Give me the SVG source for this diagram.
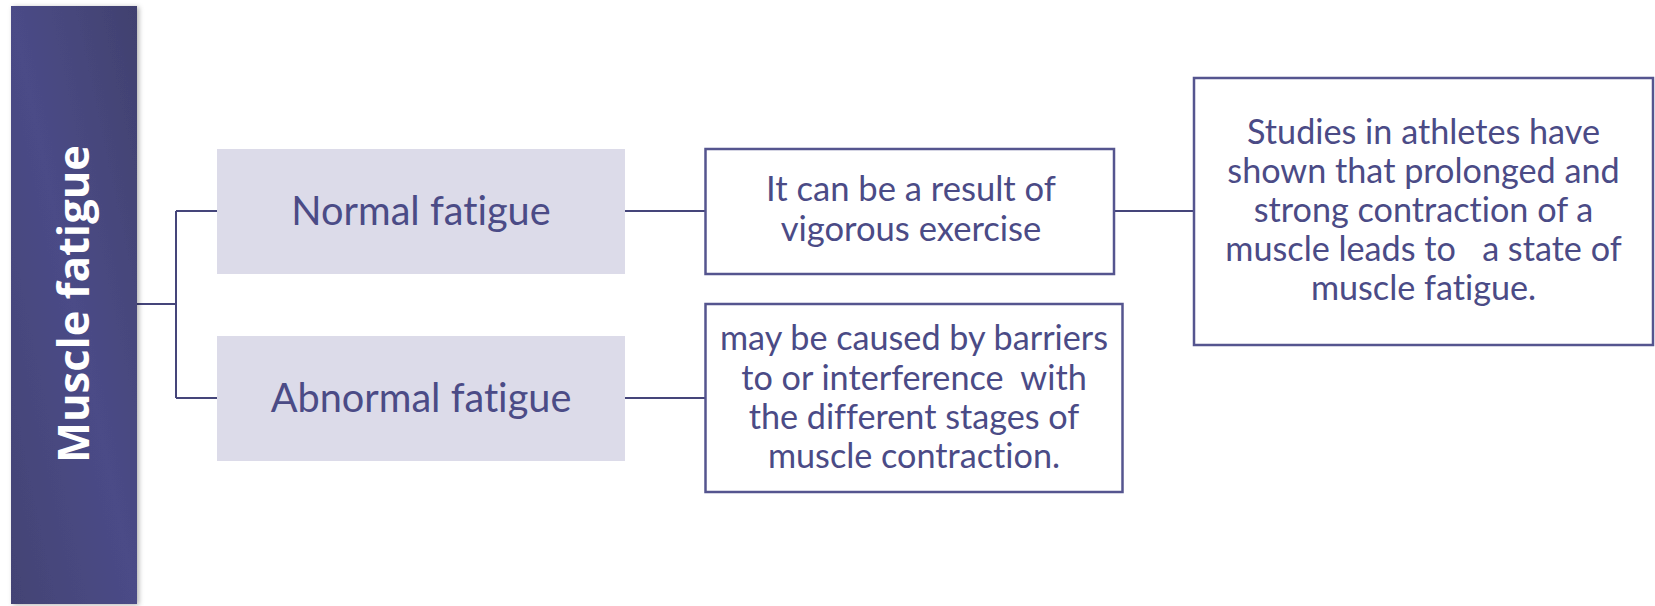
<svg xmlns="http://www.w3.org/2000/svg" width="1655" height="606" viewBox="0 0 1655 606">
<style>
.t{font-family:Lato,"Open Sans","Liberation Sans",sans-serif;fill:#4b4b86;text-anchor:middle;white-space:pre;font-variant-ligatures:none;font-feature-settings:"liga" 0}
.lbl{font-size:39.7px}
.box{font-size:34.2px}
.b1{font-size:34.6px}
.lb{fill:#dcdbe9}
.wb{fill:#fff;stroke:#55558f;stroke-width:2.5}
.c{fill:none;stroke:#45457a;stroke-width:2}
</style>
<defs>
<linearGradient id="bg" x1="1" y1="0" x2="0" y2="1">
<stop offset="0" stop-color="#41416f"/>
<stop offset="0.5" stop-color="#4b4b87"/>
<stop offset="1" stop-color="#434374"/>
</linearGradient>
<filter id="sh" x="-10%" y="-5%" width="130%" height="110%">
<feDropShadow dx="2" dy="1" stdDeviation="2.5" flood-color="#000" flood-opacity="0.3"/>
</filter>
</defs>
<g id="connectors">
<path class="c" d="M137 304H176M176 211V398M176 211H217M176 398H217"/>
<path class="c" d="M625 211H705M625 398H705M1114 211H1194"/>
</g>
<g id="muscle-fatigue">
<rect x="11" y="6" width="126" height="598" fill="url(#bg)" filter="url(#sh)"/>
<text transform="translate(89,304) rotate(-90)" font-family="'Open Sans',Lato,'Liberation Sans',sans-serif" font-weight="bold" font-size="43.5" fill="#fff" text-anchor="middle">Muscle fatigue</text>
</g>
<g id="normal">
<rect class="lb" x="217" y="149" width="408" height="125"/>
<text class="t lbl" x="421" y="225">Normal fatigue</text>
</g>
<g id="abnormal">
<rect class="lb" x="217" y="336" width="408" height="125"/>
<text class="t lbl" x="421" y="412">Abnormal fatigue</text>
</g>
<g id="result">
<rect class="wb" x="705.5" y="149" width="408.5" height="125"/>
<text class="t b1" x="911" y="201">It can be a result of</text>
<text class="t b1" x="911" y="241">vigorous exercise</text>
</g>
<g id="caused">
<rect class="wb" x="705.5" y="304" width="417" height="188"/>
<text class="t box" x="914" y="350">may be caused by barriers</text>
<text class="t box" x="914" y="390">to or interference  with</text>
<text class="t box" x="914" y="429">the different stages of</text>
<text class="t box" x="914" y="468">muscle contraction.</text>
</g>
<g id="studies">
<rect class="wb" x="1194" y="78" width="459" height="267"/>
<text class="t box" x="1423.5" y="144">Studies in athletes have</text>
<text class="t box" x="1423.5" y="183">shown that prolonged and</text>
<text class="t box" x="1423.5" y="222">strong contraction of a</text>
<text class="t box" x="1423.5" y="261">muscle leads to   a state of</text>
<text class="t box" x="1423.5" y="300">muscle fatigue.</text>
</g>
</svg>
